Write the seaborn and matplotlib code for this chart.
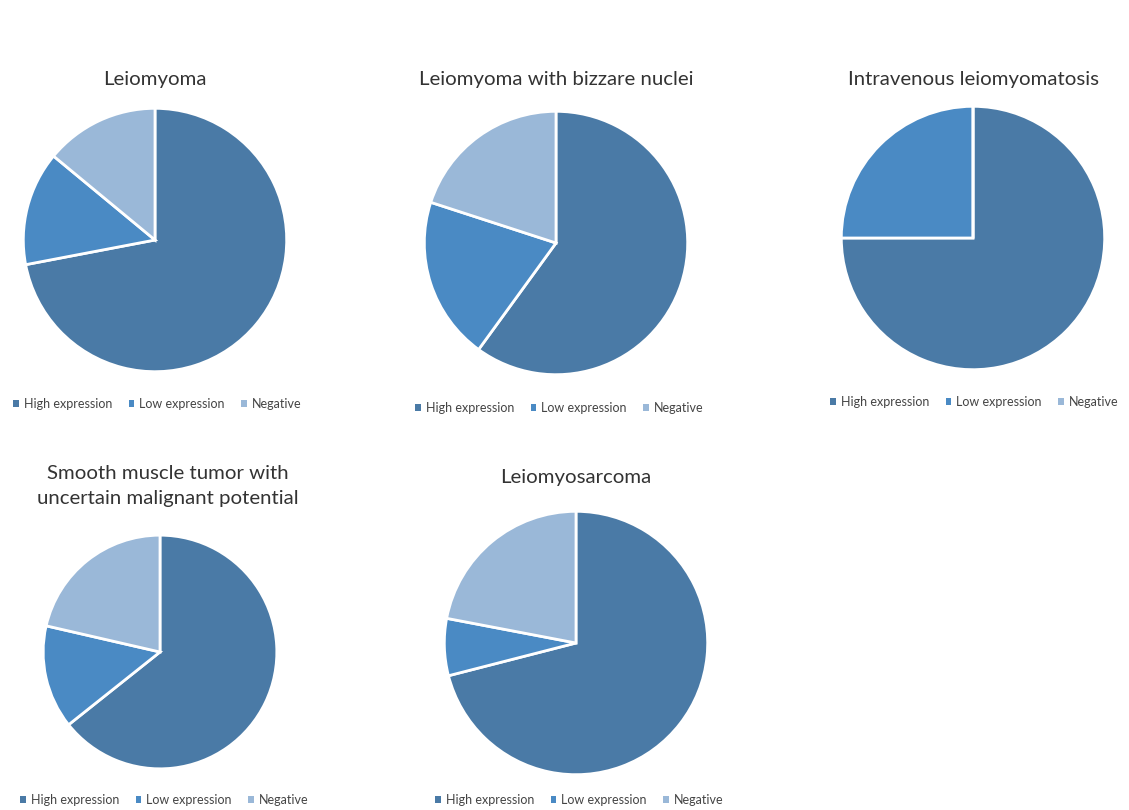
import matplotlib
matplotlib.use("Agg")
import matplotlib.pyplot as plt
import seaborn as sns
from matplotlib.patches import Patch

sns.set_theme(style="white")
plt.rcParams['font.family'] = ['Lato', 'DejaVu Sans']

categories = ["High expression", "Low expression", "Negative"]
titles = ["Leiomyoma", "Leiomyoma with bizzare nuclei", "Intravenous leiomyomatosis",
          "Smooth muscle tumor with\nuncertain malignant potential", "Leiomyosarcoma"]
leiomyoma = [72, 14, 14]
bizzare = [60, 20, 20]
intravenous = [75, 25, 0]
stump = [64.3, 14.3, 21.4]
leiomyosarcoma = [71, 7, 22]
series = [leiomyoma, bizzare, intravenous, stump, leiomyosarcoma]

colors = ["#4a7aa6", "#4a8ac4", "#9ab8d8"]

W, H = 1129, 810
fig = plt.figure(figsize=(W / 100, H / 100), dpi=100)

# (cx, cy, r, title_x, title_y, legend_x, legend_y) in pixels
layout = [
    (155, 240, 133, 155, 80, 7, 404),
    (556, 243, 133, 556, 80, 409, 408),
    (973, 238, 133, 973, 80, 824, 402),
    (160, 652, 118, 168, 486, 14, 800),
    (576, 643, 133, 576, 478, 429, 800),
]

for vals, title, (cx, cy, r, tx, ty, lx, ly) in zip(series, titles, layout):
    ax = fig.add_axes([(cx - r) / W, 1 - (cy + r) / H, 2 * r / W, 2 * r / H])
    ax.pie(vals, colors=colors, startangle=90, counterclock=False, radius=1,
           wedgeprops=dict(edgecolor="white", linewidth=2))
    ax.set_xlim(-1.01, 1.01)
    ax.set_ylim(-1.01, 1.01)
    ax.set_axis_off()
    fig.text(tx / W, 1 - ty / H, title, ha="center", va="center",
             fontsize=14.7, color="#333333", linespacing=1.55)
    handles = [Patch(facecolor=c, edgecolor="none") for c in colors]
    fig.legend(handles, categories, loc="center left",
               bbox_to_anchor=(lx / W, 1 - ly / H), ncol=3, frameon=False,
               fontsize=9.0, handlelength=0.45, handleheight=0.45,
               handletextpad=0.4, columnspacing=1.3, borderpad=0,
               labelcolor="#444444")

fig.savefig("out.png", dpi=100, facecolor="white")
